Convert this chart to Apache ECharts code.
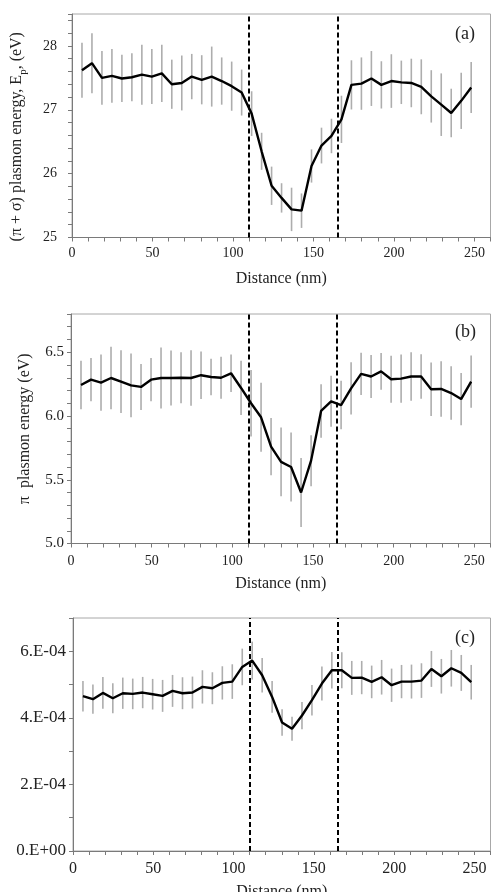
<!DOCTYPE html>
<html>
<head>
<meta charset="utf-8">
<script src="https://cdn.jsdelivr.net/npm/echarts@6/dist/echarts.min.js"></script>
<style>
html,body{margin:0;padding:0;background:#fff;overflow:hidden;}
#chart{width:496px;height:892px;}
</style>
</head>
<body>
<div id="chart"></div>
<script>
// ---- data ----
const distance = [6.2,12.4,18.6,24.8,31.0,37.2,43.4,49.6,55.8,62.0,68.2,74.4,80.6,86.8,93.0,99.2,105.4,111.6,117.8,124.0,130.2,136.4,142.6,148.8,155.0,161.2,167.4,173.6,179.8,186.0,192.2,198.4,204.6,210.8,217.0,223.2,229.4,235.6,241.8,248.0];

const totalPlasmon = [27.62,27.73,27.50,27.53,27.49,27.51,27.55,27.52,27.57,27.40,27.42,27.52,27.47,27.52,27.45,27.37,27.27,26.94,26.35,25.81,25.62,25.44,25.42,26.12,26.44,26.59,26.85,27.39,27.41,27.49,27.39,27.45,27.43,27.42,27.36,27.21,27.08,26.95,27.14,27.35];
const totalPlasmonErr = [0.43,0.47,0.42,0.42,0.37,0.375,0.47,0.43,0.45,0.385,0.43,0.355,0.385,0.47,0.37,0.385,0.36,0.35,0.29,0.30,0.23,0.34,0.27,0.26,0.28,0.27,0.37,0.385,0.41,0.43,0.37,0.42,0.34,0.38,0.43,0.41,0.49,0.38,0.44,0.40];

const piPlasmon = [6.243,6.285,6.262,6.298,6.27,6.24,6.228,6.285,6.298,6.298,6.30,6.298,6.32,6.306,6.30,6.335,6.22,6.10,5.99,5.76,5.64,5.60,5.40,5.65,6.04,6.115,6.086,6.217,6.33,6.31,6.35,6.288,6.293,6.31,6.31,6.21,6.212,6.18,6.133,6.27];
const piPlasmonErr = [0.19,0.17,0.22,0.245,0.246,0.25,0.18,0.17,0.24,0.216,0.20,0.217,0.186,0.144,0.164,0.147,0.213,0.26,0.27,0.225,0.27,0.27,0.27,0.20,0.21,0.20,0.19,0.205,0.166,0.168,0.145,0.185,0.19,0.19,0.174,0.21,0.217,0.21,0.205,0.205];

const panelC = [4.65e-4,4.56e-4,4.75e-4,4.59e-4,4.74e-4,4.72e-4,4.76e-4,4.71e-4,4.66e-4,4.81e-4,4.74e-4,4.76e-4,4.93e-4,4.89e-4,5.05e-4,5.09e-4,5.53e-4,5.72e-4,5.28e-4,4.63e-4,3.86e-4,3.67e-4,4.07e-4,4.53e-4,5.03e-4,5.43e-4,5.43e-4,5.20e-4,5.21e-4,5.08e-4,5.22e-4,4.98e-4,5.09e-4,5.09e-4,5.12e-4,5.47e-4,5.25e-4,5.49e-4,5.35e-4,5.07e-4];
const panelCErr = [0.46e-4,0.44e-4,0.48e-4,0.45e-4,0.47e-4,0.46e-4,0.47e-4,0.46e-4,0.48e-4,0.48e-4,0.48e-4,0.48e-4,0.50e-4,0.48e-4,0.50e-4,0.52e-4,0.55e-4,0.57e-4,0.52e-4,0.48e-4,0.40e-4,0.36e-4,0.41e-4,0.46e-4,0.51e-4,0.55e-4,0.54e-4,0.51e-4,0.50e-4,0.49e-4,0.52e-4,0.50e-4,0.50e-4,0.51e-4,0.52e-4,0.54e-4,0.52e-4,0.55e-4,0.54e-4,0.52e-4];

const dividers = [110, 165];
const panelLabels = ['(a)', '(b)', '(c)'];
const xName = 'Distance (nm)';
const yNameA = '{t|(π + σ) plasmon energy, E}{s|p}{t|, (eV)}';
const yNameB = 'π  plasmon energy (eV)';

// ---- chart ----
const FONT = '"Liberation Serif", "Times New Roman", serif';
const AX = '#7a7a7a';
const TXT = '#222';

const grids = [
  {left: 72, top: 14, width: 418.5, height: 223.5},
  {left: 71, top: 314, width: 419.5, height: 229.5},
  {left: 73, top: 618, width: 417.5, height: 233}
].map(g => Object.assign({show: true, borderColor: '#a8a8a8', borderWidth: 1, containLabel: false, outerBoundsMode: 'none'}, g));

const isMult = (v, m) => Math.abs(v / m - Math.round(v / m)) < 1e-6;

const xAxes = [0, 1, 2].map(i => ({
  gridIndex: i, type: 'value', min: 0, max: 260, interval: 10,
  axisLine: {onZero: false, lineStyle: {color: AX, width: 1}},
  axisTick: {length: 4, lineStyle: {color: AX}},
  splitLine: {show: false},
  axisLabel: {margin: [9, 11, 10][i], color: TXT, fontSize: [14, 14, 16][i], fontFamily: FONT,
    formatter: v => isMult(v, 50) ? String(Math.round(v)) : ''},
  name: xName, nameLocation: 'middle', nameGap: [33, 32, 33][i],
  nameTextStyle: {color: TXT, fontSize: 16, fontFamily: FONT}
}));

const yBase = {
  type: 'value',
  axisLine: {show: true, onZero: false, lineStyle: {color: AX, width: 1}},
  axisTick: {show: true, length: 4, lineStyle: {color: AX}},
  splitLine: {show: false},
  nameLocation: 'middle'
};
const yAxes = [
  Object.assign({}, yBase, {
    gridIndex: 0, min: 25, max: 28.5, interval: 0.2,
    axisLabel: {margin: 15, color: TXT, fontSize: 14, fontFamily: FONT,
      formatter: v => isMult(v, 1) ? String(Math.round(v)) : ''},
    name: yNameA, nameGap: 43,
    nameTextStyle: {color: TXT, fontFamily: FONT, padding: [0, 22, 0, 0],
      rich: {t: {fontSize: 16, fontFamily: FONT, color: TXT, verticalAlign: 'top'},
             s: {fontSize: 11, fontFamily: FONT, color: TXT, verticalAlign: 'bottom', padding: [9, 0, 0, 0]}}}
  }),
  Object.assign({}, yBase, {
    gridIndex: 1, min: 5, max: 6.8, interval: 0.1,
    axisLabel: {margin: 7, color: TXT, fontSize: 15, fontFamily: FONT,
      formatter: v => isMult(v, 0.5) ? v.toFixed(1) : ''},
    name: yNameB, nameGap: 38,
    nameTextStyle: {color: TXT, fontSize: 16, fontFamily: FONT}
  }),
  Object.assign({}, yBase, {
    gridIndex: 2, min: 0, max: 7e-4, interval: 1e-4,
    axisLabel: {margin: 7, color: TXT, fontSize: 17, fontFamily: FONT,
      formatter: v => {
        const n = Math.round(v * 1e4);
        if (n % 2 !== 0) return '';
        return n === 0 ? '0.E+00' : n + '.E-04';
      }}
  })
];

function errRender(params, api) {
  const x = api.value(0);
  const p1 = api.coord([x, api.value(1)]);
  const p2 = api.coord([x, api.value(2)]);
  return {type: 'line', shape: {x1: p1[0], y1: p1[1], x2: p2[0], y2: p2[1]},
          style: {stroke: '#adadad', lineWidth: 1.6}};
}

const panels = [[totalPlasmon, totalPlasmonErr], [piPlasmon, piPlasmonErr], [panelC, panelCErr]];
const series = [];
panels.forEach(([vals, errs], i) => {
  series.push({
    type: 'custom', xAxisIndex: i, yAxisIndex: i, z: 2, silent: true,
    renderItem: errRender,
    encode: {x: 0, y: [1, 2]},
    data: distance.map((d, k) => [d, vals[k] - errs[k], vals[k] + errs[k]])
  });
  series.push({
    type: 'line', xAxisIndex: i, yAxisIndex: i, z: 3, silent: true,
    showSymbol: false, symbol: 'none',
    lineStyle: {color: '#000', width: 2.4},
    data: distance.map((d, k) => [d, vals[k]]),
    markLine: {
      silent: true, symbol: ['none', 'none'], label: {show: false},
      lineStyle: {color: '#000', type: [5, 3], width: 2},
      data: dividers.map(x => ({xAxis: x}))
    }
  });
});

const labelTops = [25, 323, 629];
const graphic = panelLabels.map((t, i) => ({
  type: 'text', left: 455, top: labelTops[i],
  style: {text: t, font: '18px ' + FONT, fill: TXT}
}));

const chart = echarts.init(document.getElementById('chart'), null, {renderer: 'canvas'});
chart.setOption({
  animation: false,
  backgroundColor: '#fff',
  grid: grids,
  xAxis: xAxes,
  yAxis: yAxes,
  series: series,
  graphic: graphic
});
</script>
</body>
</html>
